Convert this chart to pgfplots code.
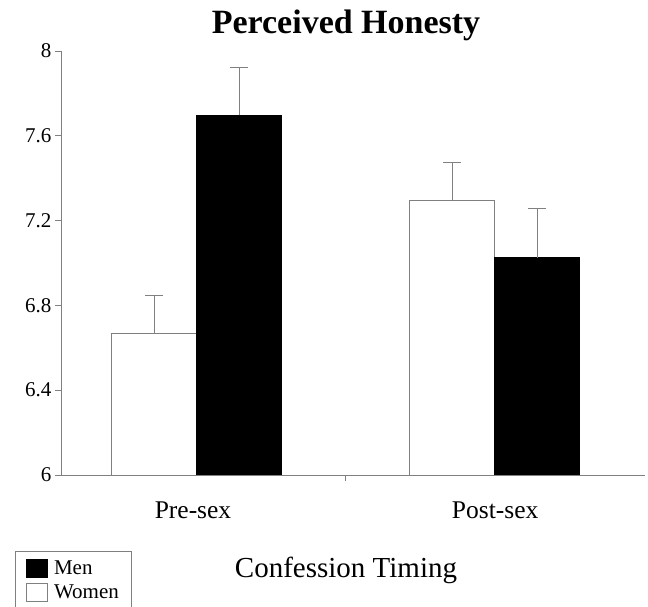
\documentclass[border=0pt]{standalone}
\usepackage{fontspec}
\setmainfont{Liberation Serif}
\usepackage{pgfplots}
\pgfplotsset{compat=1.18}
\definecolor{axgray}{HTML}{808080}
\begin{document}
\begin{tikzpicture}[x=1pt,y=1pt]
\useasboundingbox (0,0) rectangle (648,607);
\begin{axis}[
  at={(61pt,132pt)}, anchor=south west,
  scale only axis, width=584pt, height=424pt,
  xmin=-0.455, xmax=1.505, ymin=6, ymax=8,
  clip mode=individual,
  axis x line=bottom, axis y line=left,
  axis line style={draw=axgray, line width=0.9pt, -},
  ytick={6,6.4,6.8,7.2,7.6,8},
  yticklabels={6,6.4,6.8,7.2,7.6,8},
  yticklabel style={font=\fontsize{21}{21}\selectfont},
  /pgf/number format/assume math mode=true,
  tick align=outside, major tick length=6pt,
  tick style={draw=axgray, line width=0.9pt},
  xtick={0.5}, xticklabels={},
  ybar=0pt, bar width=85pt,
  reverse legend,
  legend cell align=left,
  legend style={at={(-0.0793,-0.1785)}, anchor=north west,
    draw=axgray, line width=0.9pt,
    font=\fontsize{21}{22}\selectfont,
    inner xsep=11pt, inner ysep=8pt, row sep=4pt},
  legend image code/.code={\draw[#1] (0pt,-9pt) rectangle (21pt,9pt); \path (25pt,0pt);},
]
\addplot[fill=white, draw=axgray, line width=0.9pt,
  error bars/.cd, y dir=plus, y explicit,
  error bar style={axgray, line width=0.9pt},
  error mark options={rotate=90, mark size=9pt, axgray, line width=0.9pt}]
  coordinates {(0,6.668) +- (0,0.181) (1,7.294) +- (0,0.178)};
\addlegendentry{Women}
\addplot[fill=black, draw=black, line width=0.9pt,
  error bars/.cd, y dir=plus, y explicit,
  error bar style={axgray, line width=0.9pt},
  error mark options={rotate=90, mark size=9pt, axgray, line width=0.9pt}]
  coordinates {(0,7.698) +- (0,0.223) (1,7.025) +- (0,0.231)};
\addlegendentry{Men}
\node[anchor=base, yshift=-44pt, font=\fontsize{25.5}{25.5}\selectfont] at (axis cs:-0.012,6) {Pre-sex};
\node[anchor=base, yshift=-44pt, font=\fontsize{25.5}{25.5}\selectfont] at (axis cs:1.002,6) {Post-sex};
\end{axis}
\node[font=\bfseries\fontsize{34}{34}\selectfont, anchor=base] at (346,573.7) {Perceived Honesty};
\node[font=\fontsize{29}{29}\selectfont, anchor=base] at (346,29) {Confession Timing};
\end{tikzpicture}
\end{document}
